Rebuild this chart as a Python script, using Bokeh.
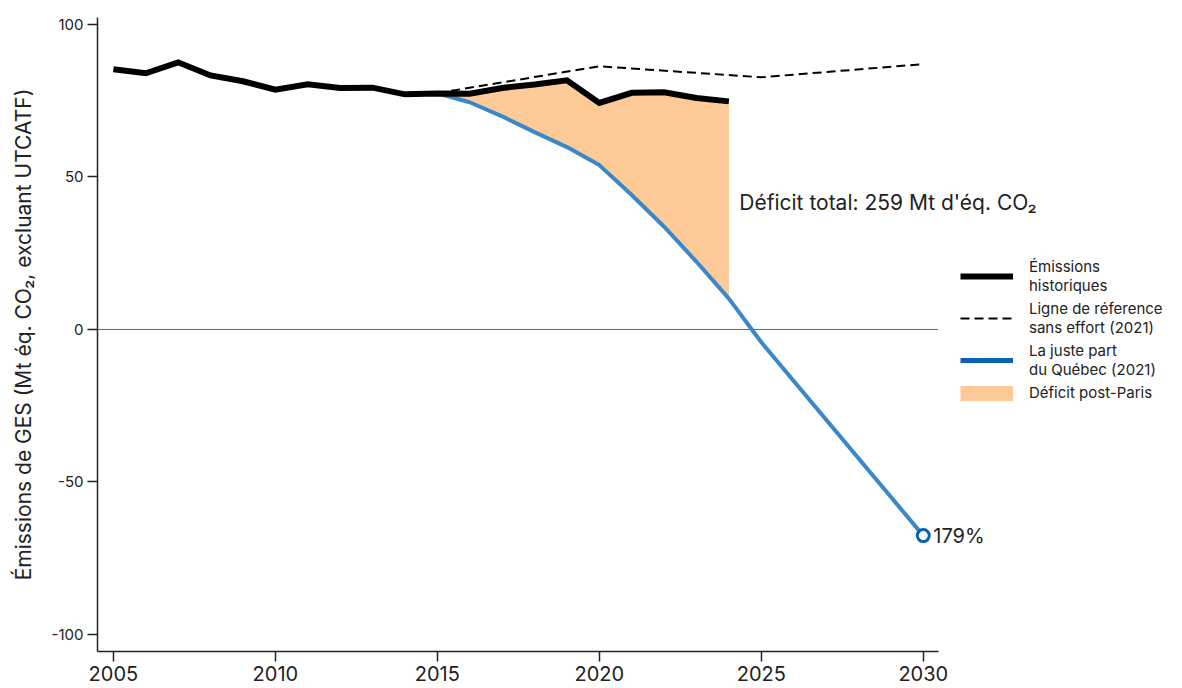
from bokeh.plotting import figure
from bokeh.models import Range1d, Legend, LegendItem, Label, FixedTicker
from bokeh.embed import file_html
from bokeh.resources import INLINE

FONT = "Inter"

# ---- data ----
hist_years = list(range(2005, 2025))
hist_values = [85.3, 84.0, 87.6, 83.3, 81.4, 78.6, 80.4, 79.2, 79.3, 77.1,
               77.4, 77.3, 79.2, 80.3, 81.7, 74.3, 77.6, 77.8, 75.9, 74.8]

ref_years = [2015, 2020, 2025, 2030]
ref_values = [77.5, 86.3, 82.7, 87.0]

fair_years = [2015, 2016, 2017, 2018, 2019, 2020, 2021, 2022, 2023, 2024, 2025, 2030]
fair_values = [77.4, 74.5, 69.9, 64.7, 59.8, 53.9, 44.1, 33.7, 22.2, 10.1, -4.2, -67.6]

deficit_years = list(range(2015, 2025))

x_ticks = [2005, 2010, 2015, 2020, 2025, 2030]
y_ticks = [-100, -50, 0, 50, 100]
y_tick_labels = {-100: "-100", -50: "-50", 0: "0", 50: "50", 100: "100"}

legend_labels = ["Émissions\nhistoriques", "Ligne de réference\nsans effort (2021)",
                 "La juste part\ndu Québec (2021)", "Déficit post-Paris"]

annotation_text = "Déficit total: 259 Mt d'éq. CO₂"
end_label = "179%"

X_START, X_AXIS_END, X_END = 2004.51, 2030.46, 2037.94
NAN = float("nan")
FILL = "#fdca98"

# ---- figure ----
p = figure(frame_width=1083, frame_height=634, output_backend="svg", toolbar_location=None,
           x_range=Range1d(X_START, X_END), y_range=Range1d(-105.6, 102.3),
           min_border_left=97, min_border_top=17, min_border_bottom=37, min_border_right=0)
p.outline_line_color = None
p.grid.visible = False
p.background_fill_color = "white"

deficit_upper = [hist_values[hist_years.index(y)] for y in deficit_years]
deficit_lower = [fair_values[fair_years.index(y)] for y in deficit_years]
p.varea(x=deficit_years, y1=deficit_lower, y2=deficit_upper, fill_color=FILL, fill_alpha=1.0)

# zero line, spanning the axis extent
p.segment(x0=[X_START], y0=[0], x1=[X_AXIS_END], y1=[0], line_color="#666666", line_width=1)

r_ref = p.line(ref_years, ref_values, line_color="black", line_width=2, line_dash="9 5")
p.line(fair_years, fair_values, line_color="#3a88c8", line_width=4)
r_hist = p.line(hist_years, hist_values, line_color="black", line_width=6, line_join="miter")
p.scatter([fair_years[-1]], [fair_values[-1]], size=12, marker="circle",
          fill_color="white", line_color="#0b63b0", line_width=3)

# legend-only swatches
r_fair_key = p.line([NAN], [NAN], line_color="#0b63b0", line_width=5)
r_fill_key = p.line([NAN], [NAN], line_color=FILL, line_width=15)

p.add_layout(Label(x=fair_years[-1], y=fair_values[-1], x_offset=10, text=end_label,
                   text_font=FONT, text_font_size="20px", text_baseline="middle",
                   text_color="#222222"))
p.add_layout(Label(x=2024.32, y=41.5, text=annotation_text, text_font=FONT,
                   text_font_size="21px", text_baseline="middle", text_color="#222222"))

legend = Legend(items=[LegendItem(label=legend_labels[0], renderers=[r_hist]),
                       LegendItem(label=legend_labels[1], renderers=[r_ref]),
                       LegendItem(label=legend_labels[2], renderers=[r_fair_key]),
                       LegendItem(label=legend_labels[3], renderers=[r_fill_key])],
                location=(863, 249), glyph_width=53, glyph_height=16, label_standoff=16,
                label_text_font=FONT, label_text_font_size="15px", label_text_line_height=1.0,
                label_text_color="#222222", spacing=4, padding=0, margin=0,
                border_line_color=None, background_fill_alpha=0)
p.add_layout(legend, "center")

for ax in (p.xaxis[0], p.yaxis[0]):
    ax.axis_line_color = "#222222"
    ax.axis_line_width = 1.5
    ax.major_tick_line_color = "#222222"
    ax.major_tick_line_width = 1.5
    ax.major_tick_in = 0
    ax.major_tick_out = 10
    ax.minor_tick_line_color = None
    ax.major_label_text_font = FONT
    ax.major_label_text_color = "#222222"

p.xaxis.bounds = (X_START, X_AXIS_END)
p.xaxis.ticker = FixedTicker(ticks=x_ticks)
p.xaxis.major_label_text_font_size = "20px"
p.xaxis.major_label_standoff = 4

p.yaxis.ticker = FixedTicker(ticks=y_ticks)
p.yaxis.major_label_overrides = y_tick_labels
p.yaxis.major_label_text_font_size = "15px"
p.yaxis.major_label_standoff = 4
p.yaxis.major_label_orientation = "horizontal"
p.yaxis.axis_label = "Émissions de GES (Mt éq. CO₂, excluant UTCATF)"
p.yaxis.axis_label_text_font = FONT
p.yaxis.axis_label_text_font_size = "21px"
p.yaxis.axis_label_text_font_style = "normal"
p.yaxis.axis_label_text_color = "#222222"
p.yaxis.axis_label_standoff = 13

open("out.html", "w").write(file_html(p, INLINE))
